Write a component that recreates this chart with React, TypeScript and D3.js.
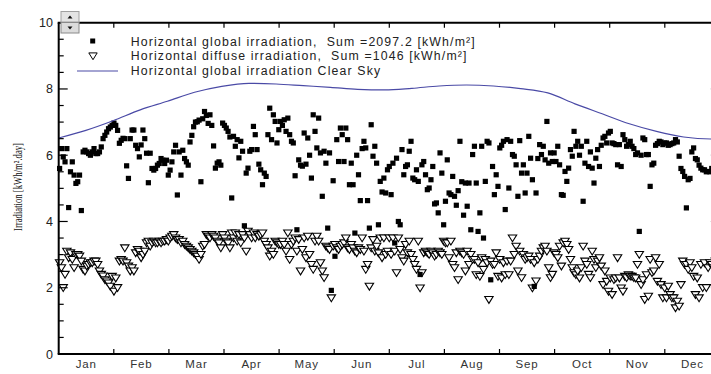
import { useEffect, useRef } from 'react'
import * as d3 from 'd3'

const months = ['Jan', 'Feb', 'Mar', 'Apr', 'May', 'Jun', 'Jul', 'Aug', 'Sep', 'Oct', 'Nov', 'Dec']
const yTicks = [0, 2, 4, 6, 8, 10]

// daily horizontal global irradiation, kWh/m².day (one line per month)
const globalDaily = [
  5.6, 6.2, 5.95, 5.8, 6.2, 4.42, 5.5, 5.8, 5.4, 5.15, 5.2, 5.4, 4.33, 6.1, 6.15, 6.1, 6.05, 6.0, 6.1, 6.2, 6.05, 6.05, 6.1, 6.25, 6.5, 6.6, 6.7, 6.8, 6.85, 6.9, 6.97,
  6.9, 6.75, 6.36, 6.45, 6.51, 6.5, 5.68, 5.3, 6.5, 6.76, 6.76, 6.3, 6.2, 5.95, 6.31, 6.76, 6.5, 6.06, 5.17, 6.06, 5.6, 5.55, 5.6, 5.7, 5.75, 5.9, 5.85, 5.75,
  5.85, 5.4, 5.55, 5.8, 6.1, 6.3, 4.8, 6.1, 5.4, 6.15, 5.9, 5.8, 5.7, 6.4, 6.6, 6.86, 7.0, 7.01, 7.06, 5.2, 7.1, 7.32, 7.2, 6.96, 7.22, 6.9, 6.28, 5.61, 5.76, 5.8, 5.7,
  6.97, 6.9, 6.82, 6.72, 6.55, 4.71, 6.57, 6.27, 6.47, 5.92, 6.42, 6.12, 3.87, 5.46, 5.61, 6.12, 6.17, 6.87, 6.62, 6.17, 5.73, 5.56, 5.11, 5.46, 5.36, 6.62, 7.42, 6.47, 7.22, 7.02,
  6.37, 6.77, 7.02, 6.9, 7.07, 6.72, 7.12, 6.62, 6.42, 6.37, 5.38, 3.75, 5.86, 5.7, 5.67, 6.67, 5.73, 6.52, 6.0, 5.31, 7.22, 6.72, 6.22, 7.12, 6.07, 4.76, 6.12, 5.76, 3.8, 6.07, 1.92,
  5.23, 2.95, 6.47, 5.81, 6.82, 6.62, 5.81, 6.82, 6.47, 5.11, 5.76, 5.11, 3.65, 6.0, 5.41, 4.63, 6.2, 6.42, 6.22, 4.63, 3.8, 6.92, 5.97, 6.27, 5.76, 3.9, 5.21, 4.89, 5.31, 4.86,
  5.56, 5.66, 4.81, 5.76, 3.35, 5.91, 4.0, 3.9, 6.17, 5.41, 5.66, 5.71, 6.12, 6.42, 5.31, 5.26, 5.56, 5.21, 2.4, 5.71, 5.81, 5.41, 4.96, 5.01, 5.26, 5.66, 4.53, 4.56, 4.26, 6.07, 5.46,
  3.9, 4.61, 5.86, 4.86, 4.81, 5.36, 4.76, 4.49, 4.93, 6.42, 5.2, 4.19, 5.16, 4.46, 5.16, 3.75, 6.02, 6.27, 5.16, 3.7, 4.26, 6.27, 3.5, 5.21, 6.42, 6.37, 2.24, 5.66, 4.81, 5.41, 5.06,
  6.22, 6.3, 6.42, 4.36, 6.47, 5.01, 6.42, 6.02, 5.97, 5.71, 4.76, 6.44, 5.46, 5.71, 4.86, 5.46, 6.57, 5.91, 5.26, 2.04, 4.86, 5.9, 6.32, 6.02, 6.27, 5.86, 7.02, 5.76, 6.07, 5.81,
  6.07, 5.81, 6.27, 5.71, 4.81, 4.79, 5.51, 5.21, 5.61, 6.17, 5.97, 6.72, 6.27, 6.42, 6.0, 6.27, 4.61, 5.76, 6.42, 5.66, 6.1, 5.61, 5.16, 5.91, 6.17, 5.66, 6.3, 6.52, 6.57, 6.37, 6.67,
  6.72, 6.37, 6.35, 6.32, 5.71, 6.32, 5.66, 6.62, 6.47, 6.27, 6.32, 6.42, 6.27, 6.2, 6.02, 6.07, 3.7, 6.0, 6.52, 6.47, 6.02, 6.02, 5.06, 5.71, 5.76, 6.3, 6.35, 6.42, 6.4, 6.32,
  6.37, 6.37, 6.3, 6.32, 6.35, 6.37, 6.47, 6.4, 5.97, 5.6, 5.51, 5.36, 4.41, 5.26, 5.3, 6.1, 6.22, 5.9, 5.86, 5.7, 5.61, 5.56, 5.56, 5.5, 5.51, 5.5, 5.6, 5.5, 5.4, 5.5, 5.45,
]

// daily horizontal diffuse irradiation
const diffuseDaily = [
  2.75, 2.6, 2.0, 2.4, 3.1, 2.9, 3.05, 2.85, 2.6, 3.0, 3.0, 2.95, 2.8, 2.55, 2.5, 2.65, 2.7, 2.75, 2.75, 2.8, 2.8, 2.7, 2.5, 2.4, 2.35, 2.24, 2.2, 2.14, 2.04, 2.34, 1.89,
  2.29, 2.0, 2.8, 2.85, 2.8, 3.2, 2.75, 2.65, 2.5, 2.6, 2.5, 3.05, 3.15, 3.1, 2.9, 3.0, 3.1, 3.35, 3.4, 3.25, 3.35, 3.4, 3.35, 3.35, 3.4, 3.35, 3.4, 3.4,
  3.45, 3.4, 3.5, 3.55, 3.6, 3.5, 3.45, 3.45, 3.35, 3.4, 3.3, 3.25, 3.2, 3.15, 3.1, 3.05, 3.0, 2.95, 2.85, 3.0, 3.25, 3.3, 3.6, 3.55, 3.5, 3.6, 3.55, 3.5, 3.4, 3.35, 3.2,
  3.6, 3.5, 3.4, 3.35, 3.2, 3.65, 3.5, 3.65, 3.4, 3.6, 3.35, 3.6, 3.5, 3.1, 3.7, 3.6, 3.5, 3.65, 3.5, 3.6, 3.55, 3.6, 3.65, 3.4, 3.3, 3.2, 2.95, 3.1, 3.0, 3.4,
  3.35, 3.3, 3.3, 3.4, 3.3, 3.1, 3.65, 2.85, 3.3, 3.4, 3.5, 3.1, 3.45, 2.5, 3.15, 3.5, 2.9, 3.55, 3.0, 2.7, 2.55, 3.4, 3.55, 3.4, 2.75, 2.5, 2.3, 3.25, 3.2, 3.15, 1.69,
  3.25, 3.3, 3.2, 3.15, 3.25, 3.3, 3.35, 3.5, 3.2, 3.15, 3.3, 3.2, 3.1, 3.05, 3.2, 3.15, 3.5, 3.1, 2.55, 2.7, 2.04, 3.2, 3.45, 3.1, 3.25, 3.05, 3.5, 2.9, 3.5, 3.0,
  3.1, 3.5, 3.0, 3.5, 3.1, 2.45, 3.5, 3.15, 2.9, 2.8, 3.3, 3.05, 3.4, 3.0, 2.85, 2.7, 2.55, 3.4, 1.99, 2.45, 3.05, 3.1, 3.05, 3.0, 3.1, 3.05, 2.95, 3.0, 3.1, 3.05, 3.0,
  3.4, 3.35, 3.35, 2.9, 3.4, 2.7, 2.6, 3.05, 2.24, 3.1, 3.05, 3.0, 2.5, 3.1, 2.7, 3.0, 2.85, 2.85, 2.39, 2.75, 2.34, 2.9, 2.55, 2.85, 2.75, 1.64, 2.8, 2.7, 2.7, 3.05, 2.34,
  2.85, 2.29, 2.75, 2.39, 2.8, 2.39, 2.8, 3.5, 3.0, 3.25, 2.5, 3.1, 2.3, 3.0, 2.85, 2.9, 2.95, 2.85, 1.99, 2.75, 2.2, 2.85, 2.95, 3.1, 3.2, 3.25, 3.1, 2.6, 2.3, 2.4,
  3.05, 3.0, 2.9, 3.25, 2.65, 3.35, 3.4, 3.3, 3.15, 2.85, 2.6, 2.45, 2.39, 2.5, 2.29, 2.6, 3.25, 2.8, 2.7, 2.4, 2.3, 3.1, 2.85, 2.6, 2.8, 2.9, 2.65, 2.09, 2.5, 2.19, 1.89,
  2.29, 1.79, 2.24, 2.29, 2.9, 2.29, 1.99, 1.89, 2.34, 2.3, 2.39, 2.35, 2.34, 2.3, 2.29, 2.7, 3.0, 2.09, 2.24, 1.64, 2.39, 1.74, 2.85, 2.45, 2.5, 2.9, 2.19, 2.7, 2.09, 1.69,
  1.99, 1.69, 2.04, 1.79, 1.69, 1.69, 1.39, 1.59, 1.44, 2.09, 2.8, 2.7, 2.7, 2.55, 2.75, 2.6, 2.34, 1.79, 2.29, 1.69, 2.7, 2.0, 2.75, 2.0, 2.6, 2.75, 2.7, 2.6, 2.8, 2.7, 2.75,
]

// clear sky curve, sampled every 15 days
const clearSkyDays = [0, 15, 30, 45, 60, 75, 90, 105, 120, 135, 150, 165, 180, 195, 210, 225, 240, 255, 270, 285, 300, 315, 330, 345, 360, 365]
const clearSkyValues = [6.52, 6.75, 7.04, 7.37, 7.63, 7.9, 8.08, 8.17, 8.15, 8.1, 8.05, 7.99, 7.97, 8.02, 8.09, 8.12, 8.09, 8.01, 7.88, 7.55, 7.25, 6.95, 6.72, 6.55, 6.49, 6.49]

const legendLabels = [
  'Horizontal global irradiation,  Sum =2097.2 [kWh/m²]',
  'Horizontal diffuse irradiation,  Sum =1046 [kWh/m²]',
  'Horizontal global irradiation Clear Sky',
]

const SANS = '"Liberation Sans", Arial, sans-serif'
const SKY = '#4a4aa6'

function IrradiationChart() {
  const ref = useRef<SVGSVGElement>(null)
  useEffect(() => {
    const width = 711, height = 374
    const svg = d3.select(ref.current).attr('viewBox', `0 0 ${width} ${height}`)
    svg.selectAll('*').remove()
    svg.append('rect').attr('width', width).attr('height', height).attr('fill', '#fff')

    const x = d3.scaleLinear().domain([0, 365]).range([58.7, 719.9])
    const y = d3.scaleLinear().domain([0, 10]).range([354, 22.7])
    const monthLen = 365 / 12
    const x0 = x(0), x1 = x(365)

    // diffuse: open down triangles
    const tri = 'M-4.2,-3.1L4.2,-3.1L0,3.7Z'
    svg.append('g').selectAll('path').data(diffuseDaily).join('path')
      .attr('d', tri)
      .attr('transform', (d, i) => `translate(${x(i + 0.5)},${y(d)})`)
      .attr('fill', '#fff').attr('stroke', '#000').attr('stroke-width', 1.1)

    // global: filled squares
    svg.append('g').selectAll('rect').data(globalDaily).join('rect')
      .attr('x', (d, i) => x(i + 0.5) - 2.6)
      .attr('y', d => y(d) - 2.6)
      .attr('width', 5.2).attr('height', 5.2)
      .attr('fill', '#000')

    // clear sky line
    const line = d3.line<number>()
      .x((d, i) => x(clearSkyDays[i]))
      .y(d => y(d))
      .curve(d3.curveMonotoneX)
    svg.append('path').datum(clearSkyValues).attr('d', line)
      .attr('fill', 'none').attr('stroke', SKY).attr('stroke-width', 1.2)

    // frame
    const ax = svg.append('g').attr('stroke', '#000')
    ax.append('line').attr('x1', x0).attr('x2', x0).attr('y1', y(10)).attr('y2', y(0)).attr('stroke-width', 2)
    ax.append('line').attr('x1', x0 - 1).attr('x2', x1).attr('y1', y(0)).attr('y2', y(0)).attr('stroke-width', 2)
    ax.append('line').attr('x1', x0 - 1).attr('x2', x1).attr('y1', y(10)).attr('y2', y(10)).attr('stroke-width', 2)
    ax.append('line').attr('x1', x1).attr('x2', x1).attr('y1', y(10)).attr('y2', y(0)).attr('stroke-width', 2)

    // y ticks (major every 2, minor every 0.5) on both sides
    d3.range(0, 10.01, 0.5).forEach(v => {
      const major = v % 2 === 0
      const len = major ? 9 : 5
      ax.append('line').attr('x1', x0).attr('x2', x0 + len).attr('y1', y(v)).attr('y2', y(v)).attr('stroke-width', 1.2)
      ax.append('line').attr('x1', x1).attr('x2', x1 - len).attr('y1', y(v)).attr('y2', y(v)).attr('stroke-width', 1.2)
    })
    // month ticks top and bottom
    d3.range(1, 12).forEach(i => {
      const xx = x(i * monthLen)
      ax.append('line').attr('x1', xx).attr('x2', xx).attr('y1', y(0)).attr('y2', y(0) - 5).attr('stroke-width', 1.2)
      ax.append('line').attr('x1', xx).attr('x2', xx).attr('y1', y(10)).attr('y2', y(10) + 5).attr('stroke-width', 1.2)
    })

    svg.append('g').selectAll('text').data(yTicks).join('text')
      .attr('x', 53).attr('y', d => y(d)).attr('dy', '0.36em')
      .attr('text-anchor', 'end').attr('font-family', SANS).attr('font-size', 12.5)
      .attr('fill', '#222').text(d => d)

    svg.append('g').selectAll('text').data(months).join('text')
      .attr('x', (d, i) => x((i + 0.5) * monthLen)).attr('y', 367.5)
      .attr('text-anchor', 'middle').attr('font-family', SANS).attr('font-size', 11.5)
      .attr('letter-spacing', 0.8).attr('fill', '#333').text(d => d)

    svg.append('text')
      .attr('transform', 'translate(22,187) rotate(-90)')
      .attr('text-anchor', 'middle')
      .attr('font-family', '"Liberation Serif", "Times New Roman", serif')
      .attr('font-size', 12.5)
      .attr('textLength', 88).attr('lengthAdjust', 'spacingAndGlyphs')
      .attr('fill', '#111')
      .text('Irradiation [kWh/m².day]')

    // legend
    const lg = svg.append('g')
    lg.append('rect').attr('x', 90.2).attr('y', 38.5).attr('width', 5).attr('height', 5).attr('fill', '#000')
    lg.append('path').attr('d', tri).attr('transform', 'translate(93,56)')
      .attr('fill', '#fff').attr('stroke', '#000')
    lg.append('line').attr('x1', 77).attr('x2', 118).attr('y1', 71).attr('y2', 71)
      .attr('stroke', SKY).attr('stroke-width', 1.2)
    lg.selectAll('text.lab').data(legendLabels).join('text').attr('class', 'lab')
      .attr('x', 130.7).attr('y', (d, i) => 45.8 + i * 14.6)
      .attr('font-family', SANS).attr('font-size', 12.3).attr('letter-spacing', 1.15)
      .attr('fill', '#222').style('white-space', 'pre').text(d => d)

    // little spinner widget at top-left
    const sp = svg.append('g')
    sp.append('rect').attr('x', 61).attr('y', 11.5).attr('width', 18).attr('height', 10.5)
      .attr('fill', '#e4e4e4').attr('stroke', '#a0a0a0')
    sp.append('rect').attr('x', 61).attr('y', 22.5).attr('width', 18).attr('height', 10.5)
      .attr('fill', '#dcdcdc').attr('stroke', '#8a8a8a')
    sp.append('path').attr('d', 'M67.5,18.5L72.5,18.5L70,15.5Z').attr('fill', '#111')
    sp.append('path').attr('d', 'M67.5,26.5L72.5,26.5L70,29.5Z').attr('fill', '#111')
  }, [])
  return <svg ref={ref} width={711} height={374} style={{ position: 'absolute', left: 0, top: 0 }} />
}

export default function App() {
  return <IrradiationChart />
}
